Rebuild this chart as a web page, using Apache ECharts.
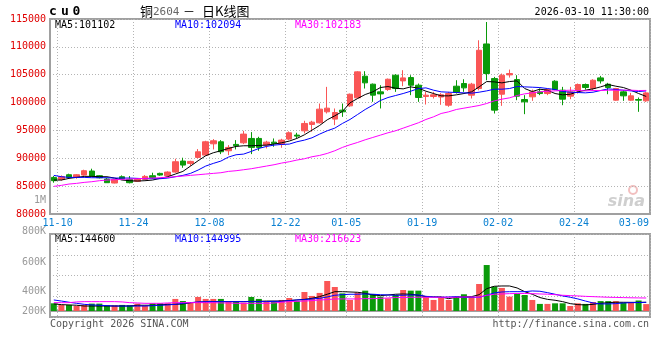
<!DOCTYPE html>
<html><head><meta charset="utf-8">
<script src="https://cdn.jsdelivr.net/npm/echarts@6/dist/echarts.min.js"></script>
<style>html,body{margin:0;padding:0;background:#fff}#c{width:660px;height:360px}</style>
</head><body><div id="c"></div>
<script>
const dates = ['11-10','11-11','11-12','11-13','11-14','11-17','11-18','11-19','11-20','11-21','11-24','11-25','11-26','11-27','11-28',
'12-01','12-02','12-03','12-04','12-05','12-08','12-09','12-10','12-11','12-12','12-15','12-16','12-17','12-18','12-19',
'12-22','12-23','12-24','12-25','12-26','12-29','12-30','12-31',
'01-05','01-06','01-07','01-08','01-09','01-12','01-13','01-14','01-15','01-16','01-19','01-20','01-21','01-22','01-23',
'01-26','01-27','01-28','01-29','01-30','02-02','02-03','02-04','02-05','02-06','02-09','02-10','02-11','02-12','02-13',
'02-24','02-25','02-26','02-27','03-02','03-03','03-04','03-05','03-06','03-09','03-10'];
const opens = [86570,86210,87050,86570,86990,87710,86870,86270,85560,86690,86210,85860,86210,86870,87290,86870,87530,89500,89080,90160,
90570,92600,92960,91350,92490,92780,93560,93560,92370,92900,92550,93440,94160,94930,96070,96370,98340,97030,98640,99410,
100850,104730,103300,101920,102340,104910,103890,104490,103120,101090,101090,101000,99530,102940,103420,101330,102520,110520,104310,101500,
104970,104130,100550,101030,101920,101620,103830,102220,101150,102100,103240,102520,104430,103300,100430,101920,100430,100550,100310];
const closes = [85980,86690,86570,87050,87770,86810,86510,85620,86210,86270,85620,86270,86750,86510,86990,87530,89380,88780,89440,91170,
92960,93140,91170,91950,92250,94340,91950,91950,92900,92660,93260,94580,93980,96250,96490,98820,99000,98220,98340,101500,
105510,103540,101330,101560,104190,102520,104430,103120,100910,101330,101390,101400,101620,101860,102640,103300,109390,105210,98640,104910,
105210,101150,100130,101920,101620,102340,102340,100610,101920,103240,102700,104010,103890,102700,102520,101210,101210,100430,101740];
const lows = [85620,85980,86450,86330,86870,86690,86390,85620,85500,86090,85500,85740,86090,86330,86870,86750,87410,88300,88600,89980,
90450,91590,90750,90570,91590,92550,90750,91350,91770,92070,91890,93260,93560,94460,94760,96250,98040,95950,97440,99240,
100730,102520,100130,98940,102100,101920,102940,101330,100130,99650,100730,99600,99240,101620,101920,100730,102200,104000,98040,99410,
104490,100430,97920,100310,101330,101330,102220,99530,100610,101620,102340,102220,103420,101500,100310,100310,100310,98340,100130];
const highs = [86810,86930,87230,87170,87950,88130,86990,86450,86270,86930,86810,86390,86990,87410,87410,87650,89920,90100,89560,91650,
93140,93440,93260,92370,93260,94930,94700,93860,93140,93560,93500,94820,94580,96730,96730,99830,102820,98940,99830,101620,
105630,105630,103420,103120,104310,105090,105810,104910,103420,101920,101920,101700,101920,104010,104190,103540,111180,114460,104610,105210,
105920,104910,101330,102340,102520,102520,104010,102820,102820,103420,103420,104190,104790,103540,102640,102220,101740,100910,101920];
const ma5 = [86094,86094,86393,86572,86751,86751,86692,86692,86453,86094,85975,85915,85975,86094,86393,86692,87169,87647,88603,89558,
90455,90992,91351,91769,92127,92246,92246,92306,92366,92545,92784,93083,93561,94218,95054,95890,96906,97622,98399,99952,
100728,101445,101923,102699,102878,102580,102460,102819,102580,102042,101624,101206,101206,101385,101624,101923,102819,103774,103714,103536,
103774,103894,102520,101983,102400,102221,101624,101385,101504,101923,102221,102460,102819,103237,102938,102699,102221,101624,101102];
const ma10 = [86930,86692,86572,86572,86572,86512,86512,86512,86453,86453,86453,86393,86333,86333,86333,86453,86692,86930,87289,87886,
88603,89080,89499,90216,90634,90753,91231,91769,92127,92366,92485,92545,92963,93262,93680,94337,94934,95412,96248,96966,
97861,98757,99533,100370,100907,101266,101624,102042,102520,102639,102221,101923,101863,101803,101744,101684,101863,102102,102400,102400,
102520,102878,102819,102759,102699,102520,102341,101983,101863,101803,101744,101863,102162,102460,102341,102221,102102,101983,102094];
const ma30 = [84960,85139,85378,85497,85676,85796,85975,86094,86154,86214,86274,86333,86393,86453,86512,86572,86692,86811,86930,87050,
87169,87289,87408,87647,87766,87946,88125,88364,88603,88842,89140,89379,89678,89917,90275,90514,90872,91351,91948,92425,
92843,93320,93739,94157,94575,94934,95412,95890,96368,96966,97443,98040,98339,98757,98996,99235,99474,99832,100310,100608,
100848,101266,101565,101743,101923,102042,102102,102162,102221,102162,102102,102162,102162,102221,102221,102221,102221,102162,102183];
// volume, thousands of lots
const volumes = [128,101,101,83,101,123,123,96,96,101,96,123,83,128,128,128,201,166,146,234,
201,201,201,161,161,139,234,201,161,161,184,217,166,317,251,301,500,400,294,184,
307,339,284,239,211,267,350,339,339,251,184,229,184,239,279,239,450,766,407,384,
239,284,267,184,118,118,128,128,83,128,118,150,165,165,165,140,140,175,115].map(v => v * 1000);
const volMa5 = [118,106,101,96,83,83,83,83,83,83,83,96,96,96,101,111,111,118,139,146,
151,156,156,156,156,156,161,161,166,166,166,173,184,194,211,239,279,322,322,317,
312,294,267,256,267,279,284,279,262,239,234,234,206,229,234,239,272,372,412,417,
417,384,322,279,224,194,179,156,123,106,101,111,128,139,146,145,144,144,144.6].map(v => v * 1000);
const volMa10 = [184,166,146,128,111,101,96,89,83,83,83,83,83,89,96,101,111,128,139,151,
156,156,156,156,156,156,156,156,156,161,161,173,184,189,201,211,234,262,272,279,
279,284,279,272,267,262,262,267,267,244,234,229,234,239,229,229,229,262,301,317,
322,322,322,334,329,306,279,251,229,201,166,134,118,118,123,134,139,141,144.995].map(v => v * 1000);
const volMa30 = [139,139,139,151,156,156,156,156,156,151,139,134,128,128,128,134,139,139,139,139,
139,139,134,134,128,128,128,128,128,134,146,156,161,166,173,184,189,201,201,201,
201,206,206,211,217,224,224,229,229,229,229,229,229,229,234,234,229,262,279,284,
289,292,292,289,284,280,272,262,256,251,244,239,234,229,226,223,220,218,216.623].map(v => v * 1000);
const labelDates = ['11-10','11-24','12-08','12-22','01-05','01-19','02-02','02-24','03-09'];
const volTicks = [200000, 400000, 600000, 800000];
const titleChars = ['c', 'u', '0'];
const stamp = '2026-03-10 11:30:00';
const priceLegend = ['MA5:101102', 'MA10:102094', 'MA30:102183'];
const volLegend = ['MA5:144600', 'MA10:144995', 'MA30:216623'];

const UP = '#fa5656', DOWN = '#0a9a0a';
const MONO = '"DejaVu Sans Mono", monospace';
const labelIdx = new Set(labelDates.map(d => dates.indexOf(d)));
const lastLabel = labelDates[labelDates.length - 1];

const chart = echarts.init(document.getElementById('c'), null, {renderer: 'canvas'});
const gridLine = {show: true, lineStyle: {color: '#b4b4b4', type: [1, 2], width: 1}};
const xBase = {
  type: 'category', data: dates, boundaryGap: true,
  axisLine: {show: true, lineStyle: {color: '#a0a0a0', width: 2}},
  axisTick: {show: false},
  splitLine: Object.assign({}, gridLine, {interval: (i) => labelIdx.has(i - 1) && dates[i - 1] !== lastLabel})
};
const isUp = (i) => closes[i] >= opens[i];
const volRich = {};
volTicks.forEach((t, j) => {
  const pads = [[30, 0, 0, 0], [31, 0, 0, 0], [15, 0, 0, 0], [0, 0, 5, 0]];
  volRich['k' + t / 1000] = {color: '#999', fontFamily: MONO, fontSize: 10, padding: pads[j]};
});

chart.setOption({
  animation: false,
  backgroundColor: '#fff',
  grid: [
    {left: 50, right: 10, top: 19, height: 195, show: true, borderColor: '#a0a0a0', borderWidth: 2},
    {left: 50, right: 10, top: 234, height: 83, show: true, borderColor: '#a0a0a0', borderWidth: 2}
  ],
  xAxis: [
    Object.assign({}, xBase, {gridIndex: 0,
      axisLabel: {show: true, interval: (i) => labelIdx.has(i), color: '#0a80d2', fontFamily: MONO, fontSize: 10, margin: 4,
        padding: [0, 0, 0, 7.6],
        formatter: (v) => v === lastLabel ? '{e|' + v + '}' : v,
        rich: {e: {color: '#0a80d2', fontFamily: MONO, fontSize: 10, padding: [0, 17, 0, 0]}}}}),
    Object.assign({}, xBase, {gridIndex: 1, axisLabel: {show: false}})
  ],
  yAxis: [
    {gridIndex: 0, type: 'value', min: 80000, max: 115000, interval: 5000, position: 'left',
      axisLine: {show: true, lineStyle: {color: '#a0a0a0', width: 2}}, axisTick: {show: false},
      axisLabel: {color: '#e00000', fontFamily: MONO, fontSize: 10, margin: 4, padding: [0, 0, 4, 0],
        formatter: (v) => String(v)},
      splitLine: gridLine},
    {gridIndex: 1, type: 'value', min: -100000, max: 1283000, position: 'left',
      axisLine: {show: true, lineStyle: {color: '#a0a0a0', width: 2}}, axisTick: {show: false},
      axisLabel: {show: false}, splitLine: {show: false}},
    {gridIndex: 1, type: 'value', min: 0, max: 800000, interval: 200000, position: 'left',
      axisLine: {show: false}, axisTick: {show: false},
      axisLabel: {color: '#999', fontFamily: MONO, fontSize: 10, margin: 4,
        formatter: (v) => volTicks.includes(v) ? '{k' + (v / 1000) + '|' + (v / 1000) + 'K}' : '',
        rich: volRich},
      splitLine: gridLine}
  ],
  series: [
    {type: 'candlestick', xAxisIndex: 0, yAxisIndex: 0, barWidth: 6, clip: true,
      data: dates.map((d, i) => [opens[i], closes[i], lows[i], highs[i]]),
      itemStyle: {color: UP, color0: DOWN, borderColor: UP, borderColor0: DOWN, borderWidth: 1}},
    {type: 'line', xAxisIndex: 0, yAxisIndex: 0, data: ma5, showSymbol: false, lineStyle: {color: '#000', width: 1}},
    {type: 'line', xAxisIndex: 0, yAxisIndex: 0, data: ma10, showSymbol: false, lineStyle: {color: '#0000ff', width: 1}},
    {type: 'line', xAxisIndex: 0, yAxisIndex: 0, data: ma30, showSymbol: false, lineStyle: {color: '#ff00ff', width: 1}},
    {type: 'bar', xAxisIndex: 1, yAxisIndex: 1, barWidth: 6,
      data: volumes.map((v, i) => ({value: v, itemStyle: {color: isUp(i) ? UP : DOWN}}))},
    {type: 'line', xAxisIndex: 1, yAxisIndex: 1, data: volMa5, showSymbol: false, lineStyle: {color: '#000', width: 1}},
    {type: 'line', xAxisIndex: 1, yAxisIndex: 1, data: volMa10, showSymbol: false, lineStyle: {color: '#0000ff', width: 1}},
    {type: 'line', xAxisIndex: 1, yAxisIndex: 1, data: volMa30, showSymbol: false, lineStyle: {color: '#ff00ff', width: 1}}
  ],
  graphic: [
    {type: 'text', x: 49, y: 12, style: {text: titleChars[0], font: 'bold 13px ' + MONO, fill: '#000', verticalAlign: 'middle'}},
    {type: 'text', x: 61, y: 12, style: {text: titleChars[1], font: 'bold 13px ' + MONO, fill: '#000', verticalAlign: 'middle'}},
    {type: 'text', x: 72.5, y: 12, style: {text: titleChars[2], font: 'bold 13px ' + MONO, fill: '#000', verticalAlign: 'middle'}},
    {type: 'text', x: 140, y: 11, style: {text: '铜', font: '13px "Noto Sans CJK SC"', fill: '#000', verticalAlign: 'middle'}},
    {type: 'text', x: 153, y: 12, style: {text: '2604', font: '11px ' + MONO, fill: '#666', verticalAlign: 'middle'}},
    {type: 'text', x: 183, y: 11, style: {text: '－', font: '12px "Noto Sans CJK SC"', fill: '#000', verticalAlign: 'middle'}},
    {type: 'text', x: 202, y: 11, style: {text: '日K线图', font: '13px "Noto Sans CJK SC"', fill: '#000', verticalAlign: 'middle'}},
    {type: 'text', x: 649, y: 12, style: {text: stamp, font: '10px ' + MONO, fill: '#000', align: 'right', verticalAlign: 'middle'}},
    {type: 'text', x: 55, y: 25, style: {text: priceLegend[0], font: '10px ' + MONO, fill: '#000', verticalAlign: 'middle'}},
    {type: 'text', x: 175, y: 25, style: {text: priceLegend[1], font: '10px ' + MONO, fill: '#0000ff', verticalAlign: 'middle'}},
    {type: 'text', x: 295, y: 25, style: {text: priceLegend[2], font: '10px ' + MONO, fill: '#ff00ff', verticalAlign: 'middle'}},
    {type: 'text', x: 55, y: 239, style: {text: volLegend[0], font: '10px ' + MONO, fill: '#000', verticalAlign: 'middle'}},
    {type: 'text', x: 175, y: 239, style: {text: volLegend[1], font: '10px ' + MONO, fill: '#0000ff', verticalAlign: 'middle'}},
    {type: 'text', x: 295, y: 239, style: {text: volLegend[2], font: '10px ' + MONO, fill: '#ff00ff', verticalAlign: 'middle'}},
    {type: 'text', x: 46, y: 200, style: {text: '1M', font: '10px ' + MONO, fill: '#999', align: 'right', verticalAlign: 'middle'}},
    {type: 'text', x: 50, y: 324, style: {text: 'Copyright 2026 SINA.COM', font: '10px ' + MONO, fill: '#555', verticalAlign: 'middle'}},
    {type: 'text', x: 649, y: 324, style: {text: 'http://finance.sina.com.cn', font: '10px ' + MONO, fill: '#555', align: 'right', verticalAlign: 'middle'}},
    {type: 'circle', shape: {cx: 633, cy: 190, r: 4}, style: {fill: 'none', stroke: '#f2c0c0', lineWidth: 2}},
    {type: 'text', x: 645, y: 202, style: {text: 'sina', font: 'italic bold 16px "DejaVu Sans"', fill: '#cfcfcf', align: 'right', verticalAlign: 'middle'}}
  ]
});
</script></body></html>
